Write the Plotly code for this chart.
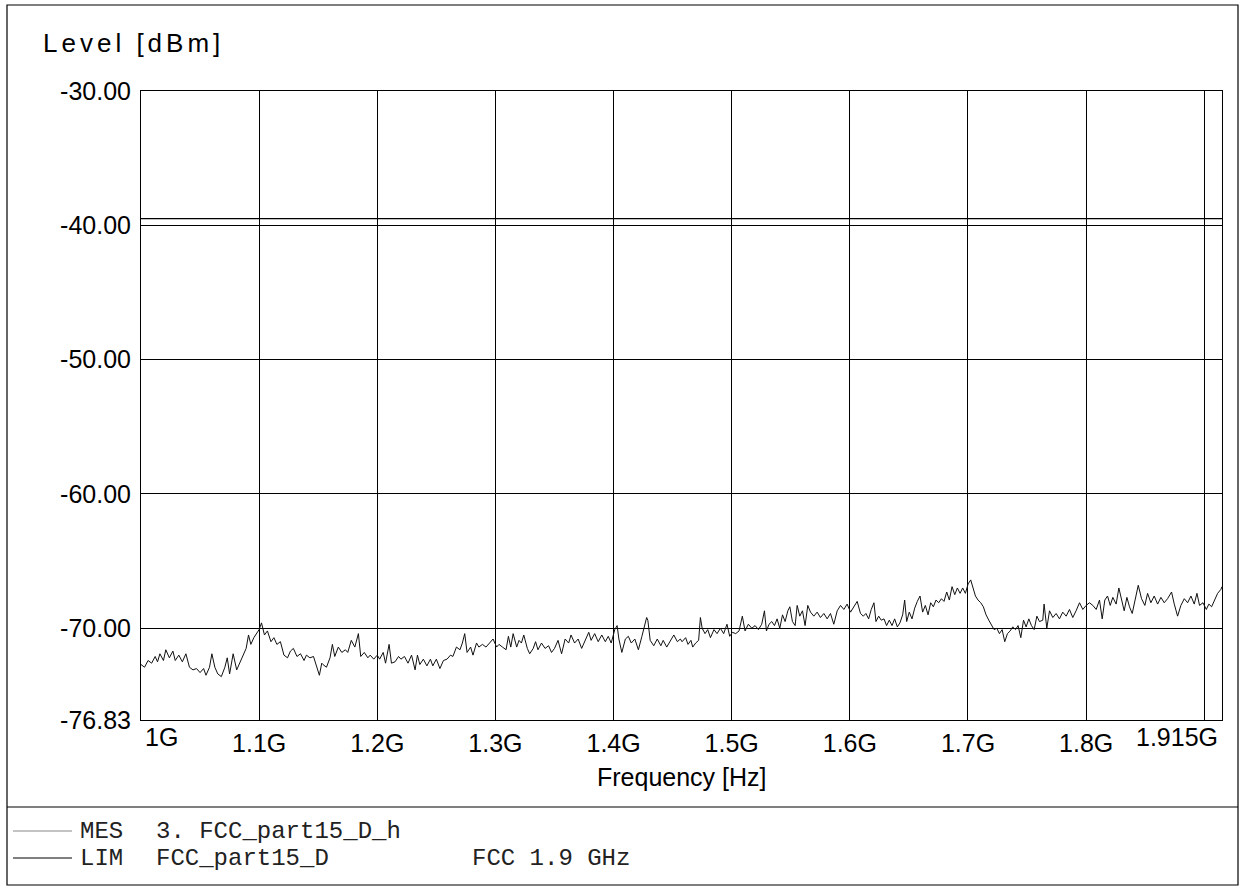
import plotly.graph_objects as go

# ---------------- data ----------------
# measurement trace, (frequency MHz, level dBm) pairs, split by frequency band
mes_1000_1153 = [
    (1000, -72.7), (1003, -72.9), (1006, -72.4), (1009, -72.6), (1012, -72.1), (1014, -72.5),
    (1016, -71.9), (1019, -72.4), (1021, -71.6), (1024, -72.2), (1027, -71.7), (1029, -72.4),
    (1032, -72.0), (1035, -72.5), (1038, -71.9), (1041, -72.9), (1044, -73.1), (1047, -73.0),
    (1050, -73.3), (1053, -73.0), (1055, -73.5), (1058, -72.9), (1060, -71.9), (1062.5, -72.9),
    (1065, -73.4), (1068, -73.6), (1071, -72.9), (1073, -72.2), (1075, -73.4), (1078, -71.9),
    (1081, -73.1), (1084, -72.5), (1086.5, -72.1), (1089, -71.5), (1091, -70.5), (1093, -71.2),
    (1095.5, -70.7), (1098, -70.4), (1100, -70.1), (1102, -69.6), (1104.5, -70.5), (1107, -70.2),
    (1110, -71.0), (1112.5, -70.7), (1115, -71.2), (1118, -71.0), (1121, -72.0), (1124, -72.2),
    (1126.5, -71.7), (1129, -71.5), (1132, -72.1), (1135, -71.9), (1138, -72.4), (1140, -72.0),
    (1143, -72.2), (1146, -72.1), (1148.5, -72.9), (1151, -73.5), (1153, -72.6),
]
mes_1154_1306 = [
    (1154, -72.7), (1157, -72.9), (1160, -72.2), (1162, -71.2), (1164, -72.1), (1167, -71.4),
    (1170, -71.8), (1173, -71.6), (1175, -71.8), (1178, -70.9), (1181, -71.4), (1184, -70.4),
    (1186, -72.1), (1189, -71.8), (1192, -72.2), (1194, -72.0), (1197, -72.3), (1200, -72.0),
    (1202, -72.3), (1205, -71.8), (1207, -72.6), (1210, -71.2), (1212, -72.6), (1215, -72.5),
    (1218, -72.1), (1220, -72.3), (1223, -72.1), (1226, -72.6), (1229, -72.0), (1232, -73.1),
    (1234, -72.0), (1236, -72.7), (1239, -72.3), (1242, -72.8), (1245, -72.3), (1247, -72.8),
    (1250, -72.3), (1253, -73.0), (1256, -72.4), (1259, -72.3), (1262, -72.0), (1264, -72.1),
    (1267, -71.4), (1270, -71.6), (1272, -71.1), (1274, -70.4), (1276, -71.8), (1279, -71.4),
    (1281, -72.0), (1284, -71.1), (1286, -71.4), (1289, -71.2), (1292, -71.4), (1295, -71.1),
    (1298, -70.8), (1301, -71.4), (1303, -71.2), (1306, -71.4),
]
mes_1309_1458 = [
    (1309, -71.6), (1311, -70.6), (1313, -71.4), (1315, -70.4), (1318, -71.4), (1320, -70.9),
    (1322, -71.1), (1324, -70.5), (1327, -71.5), (1329, -71.9), (1332, -71.5), (1334, -71.0),
    (1336, -71.6), (1339, -71.1), (1342, -71.5), (1345, -71.3), (1347.5, -71.8), (1350, -71.5),
    (1353, -70.9), (1356, -71.9), (1359, -70.8), (1362, -71.1), (1364, -70.5), (1367, -71.1),
    (1370, -70.8), (1373, -71.5), (1376, -70.9), (1379, -70.3), (1381, -70.9), (1384, -70.4),
    (1387, -71.0), (1390, -70.5), (1393, -71.0), (1395.5, -70.6), (1398, -71.1), (1401, -70.1),
    (1403, -69.8), (1404.5, -70.8), (1407, -71.8), (1410, -70.8), (1412.5, -70.6), (1415, -71.1),
    (1418, -70.8), (1421, -71.6), (1424, -70.6), (1426, -69.9), (1428, -69.2), (1429, -69.4),
    (1431, -70.9), (1434, -71.3), (1437, -70.8), (1440, -71.3), (1442, -70.9), (1445, -71.4),
    (1448, -70.9), (1451, -70.5), (1454, -71.0), (1456.5, -70.8), (1458, -71.0),
]
mes_1461_1609 = [
    (1461, -70.7), (1463, -71.2), (1465.5, -70.9), (1467, -71.4), (1469.5, -71.1), (1472, -70.9),
    (1473.5, -69.2), (1475, -70.0), (1477.4, -70.4), (1479.7, -70.1), (1482, -70.7), (1485, -70.1),
    (1487.6, -70.4), (1490.4, -70.0), (1493.2, -70.4), (1496, -69.7), (1498.3, -70.6), (1500.6, -70.3),
    (1503.4, -70.4), (1506.2, -70.2), (1509, -69.1), (1511.3, -70.2), (1514.1, -69.7), (1517, -70.0),
    (1519.8, -69.8), (1522.6, -70.1), (1525.4, -69.7), (1527.7, -68.7), (1529.4, -70.2), (1531.6, -69.7),
    (1533.9, -69.5), (1536.2, -69.8), (1538.4, -69.3), (1540.7, -70.0), (1543, -69.0), (1545.2, -69.5),
    (1547.5, -68.7), (1549.2, -68.4), (1551.4, -69.5), (1553.7, -69.8), (1555.4, -68.3), (1557.6, -69.1),
    (1559.9, -68.7), (1562.1, -69.8), (1564.4, -68.3), (1566.7, -68.8), (1569.5, -69.1), (1572.3, -68.8),
    (1575.1, -69.2), (1578, -68.9), (1580.8, -69.3), (1583.6, -68.9), (1586.4, -69.7), (1589.3, -68.7),
    (1592.1, -68.3), (1594.9, -68.6), (1597.7, -68.2), (1600.6, -68.8), (1603.4, -68.4), (1606.2, -68.0),
    (1609, -68.9),
]
mes_1611_1763 = [
    (1611.4, -69.1), (1613.6, -68.9), (1615.9, -69.3), (1618.1, -68.6), (1620.4, -68.1), (1622.1, -69.5),
    (1624.4, -69.1), (1626.6, -69.4), (1628.9, -69.3), (1631.1, -69.8), (1633.4, -69.4), (1635.7, -69.8),
    (1637.9, -69.3), (1640.2, -69.9), (1642.4, -69.6), (1644.7, -69.0), (1646.4, -67.9), (1648.1, -69.5),
    (1650.3, -68.8), (1652.6, -69.3), (1654.9, -68.5), (1657.1, -68.0), (1659.4, -67.6), (1661.6, -68.8),
    (1663.9, -68.3), (1666.2, -69.0), (1668.4, -68.1), (1670.7, -68.4), (1672.9, -67.9), (1675.2, -68.1),
    (1677.5, -67.8), (1679.7, -68.0), (1682, -67.3), (1684.2, -67.9), (1686.5, -66.9), (1688.8, -67.5),
    (1691, -67.0), (1693.3, -67.4), (1695.5, -67.0), (1697.8, -67.4), (1700.1, -66.7), (1702.3, -66.4),
    (1704, -67.0), (1706.3, -67.6), (1708.5, -67.9), (1710.8, -68.1), (1713, -68.4), (1715.3, -69.0),
    (1717.6, -69.4), (1719.8, -69.8), (1722.1, -70.1), (1724.4, -70.0), (1726.6, -70.4), (1728.9, -70.1),
    (1731.1, -71.0), (1733.4, -70.4), (1735.7, -70.2), (1737.9, -69.9), (1740.2, -70.1), (1742.4, -69.8),
    (1744.7, -70.7), (1747, -69.4), (1749.2, -69.9), (1751.5, -69.3), (1753.7, -69.8), (1756, -70.1),
    (1758.3, -69.1), (1760.5, -69.5), (1763.3, -69.4),
]
mes_1764_1915 = [
    (1764.4, -68.2), (1766.7, -70.0), (1769, -68.7), (1771.8, -69.2), (1774.6, -68.9), (1777.4, -69.3),
    (1780.2, -68.8), (1783.1, -69.1), (1785.9, -68.6), (1788.7, -69.2), (1791.5, -68.7), (1794.4, -68.1),
    (1797.2, -68.6), (1800, -68.3), (1802.8, -68.1), (1805.7, -68.3), (1808.5, -68.6), (1811.3, -67.9),
    (1813.6, -69.3), (1815.8, -67.9), (1818.1, -67.6), (1820.4, -68.3), (1822.6, -67.7), (1825.4, -68.2),
    (1827.7, -67.0), (1830, -67.8), (1832.2, -68.7), (1834.5, -67.7), (1836.7, -68.4), (1839, -68.9),
    (1841.3, -67.9), (1844.1, -66.8), (1846.9, -67.8), (1849.7, -68.3), (1852, -67.4), (1854.8, -68.1),
    (1857.6, -67.6), (1860.5, -68.2), (1863.3, -67.7), (1866.1, -68.1), (1868.9, -67.8), (1872.3, -67.3),
    (1874.6, -68.2), (1877.4, -69.1), (1880.2, -68.3), (1883.1, -67.8), (1885.9, -68.1), (1888.7, -67.6),
    (1891.5, -68.2), (1893.8, -67.4), (1896, -68.3), (1898.9, -68.1), (1901.7, -68.6), (1903.9, -68.2),
    (1906.2, -68.4), (1908.5, -67.9), (1911.3, -67.4), (1914.1, -67.1), (1915, -66.9),
]

# limit line FCC_part15_D
lim_freq_mhz = [1000, 1915]
lim_level_dbm = [-39.5, -39.5]

# axis ticks
y_tickvals = [-76.83, -70, -60, -50, -40, -30]
y_ticktext = ["-76.83", "-70.00", "-60.00", "-50.00", "-40.00", "-30.00"]
x_tickvals = [1.1, 1.2, 1.3, 1.4, 1.5, 1.6, 1.7, 1.8, 1.9]
x_ticktext = ["1.1G", "1.2G", "1.3G", "1.4G", "1.5G", "1.6G", "1.7G", "1.8G", ""]
x_start, x_end = 1.0, 1.915
x_start_label, x_end_label = "1G", "1.915G"
y_min, y_max = -76.83, -30.0

# ---------------- figure ----------------
segments = [mes_1000_1153, mes_1154_1306, mes_1309_1458, mes_1461_1609, mes_1611_1763, mes_1764_1915]
mes_f = [p[0] / 1000.0 for s in segments for p in s]
mes_l = [p[1] for s in segments for p in s]

W, H = 1241, 889
ML, MR, MT, MB = 141, 19, 91, 169
PW, PH = W - ML - MR, H - MT - MB


def px(x):
    return (x - ML) / PW


def py(y):
    return (H - MB - y) / PH


SANS = "Liberation Sans, Arial, sans-serif"
MONO = "Liberation Mono, Courier New, monospace"

fig = go.Figure()
fig.add_trace(go.Scatter(x=mes_f, y=mes_l, mode="lines",
                         line=dict(color="#111111", width=1), name="MES"))
fig.add_trace(go.Scatter(x=[f / 1000.0 for f in lim_freq_mhz], y=lim_level_dbm, mode="lines",
                         line=dict(color="#000000", width=1.3), name="LIM"))

axis_common = dict(showgrid=True, gridcolor="#000000", gridwidth=1, zeroline=False,
                   showline=True, linecolor="#000000", linewidth=1, mirror=True,
                   tickfont=dict(family=SANS, size=25, color="#000000"),
                   ticks="outside", tickcolor="rgba(0,0,0,0)")

fig.update_xaxes(range=[x_start, x_end], tickmode="array", tickvals=x_tickvals,
                 ticktext=x_ticktext, ticklen=1, **axis_common)
fig.update_yaxes(range=[y_min, y_max], tickmode="array", tickvals=y_tickvals,
                 ticktext=y_ticktext, ticklen=4, **axis_common)

annotations = [
    dict(x=x_start, y=0, xref="x", yref="paper", text=x_start_label, showarrow=False,
         xanchor="left", yanchor="top", yshift=-1, xshift=2,
         font=dict(family=SANS, size=25, color="#000000")),
    dict(x=x_end, y=0, xref="x", yref="paper", text=x_end_label, showarrow=False,
         xanchor="right", yanchor="top", yshift=-1, xshift=-2,
         font=dict(family=SANS, size=25, color="#000000")),
    dict(x=px(682), y=py(777), xref="paper", yref="paper", text="Frequency [Hz]",
         showarrow=False, xanchor="center", yanchor="middle",
         font=dict(family=SANS, size=25, color="#000000")),
    dict(x=px(41), y=py(43), xref="paper", yref="paper",
         text='<span style="letter-spacing:4px">Level [dBm]</span>',
         showarrow=False, xanchor="left", yanchor="middle",
         font=dict(family=SANS, size=26, color="#000000")),
    dict(x=px(78), y=py(831), xref="paper", yref="paper", text="MES", showarrow=False,
         xanchor="left", yanchor="middle", font=dict(family=MONO, size=24, color="#222222")),
    dict(x=px(154), y=py(831), xref="paper", yref="paper", text="3. FCC_part15_D_h",
         showarrow=False, xanchor="left", yanchor="middle",
         font=dict(family=MONO, size=24, color="#222222")),
    dict(x=px(78), y=py(858), xref="paper", yref="paper", text="LIM", showarrow=False,
         xanchor="left", yanchor="middle", font=dict(family=MONO, size=24, color="#222222")),
    dict(x=px(154), y=py(858), xref="paper", yref="paper", text="FCC_part15_D",
         showarrow=False, xanchor="left", yanchor="middle",
         font=dict(family=MONO, size=24, color="#222222")),
    dict(x=px(470), y=py(858), xref="paper", yref="paper", text="FCC 1.9 GHz",
         showarrow=False, xanchor="left", yanchor="middle",
         font=dict(family=MONO, size=24, color="#222222")),
]

shapes = [
    dict(type="rect", xref="paper", yref="paper", x0=px(7), x1=px(1238), y0=py(885), y1=py(5),
         line=dict(color="#000000", width=1.2), fillcolor="rgba(0,0,0,0)", layer="below"),
    dict(type="line", xref="paper", yref="paper", x0=px(7), x1=px(1238), y0=py(807), y1=py(807),
         line=dict(color="#000000", width=1.2)),
    dict(type="line", xref="paper", yref="paper", x0=px(13), x1=px(72), y0=py(831), y1=py(831),
         line=dict(color="#888888", width=1)),
    dict(type="line", xref="paper", yref="paper", x0=px(13), x1=px(72), y0=py(858), y1=py(858),
         line=dict(color="#000000", width=1)),
]

fig.update_layout(width=W, height=H, margin=dict(l=ML, r=MR, t=MT, b=MB, pad=0),
                  paper_bgcolor="#ffffff", plot_bgcolor="#ffffff", showlegend=False,
                  annotations=annotations, shapes=shapes)

fig.write_html("out.html", config={"displayModeBar": False},
               post_script="document.body.style.margin='0';")
